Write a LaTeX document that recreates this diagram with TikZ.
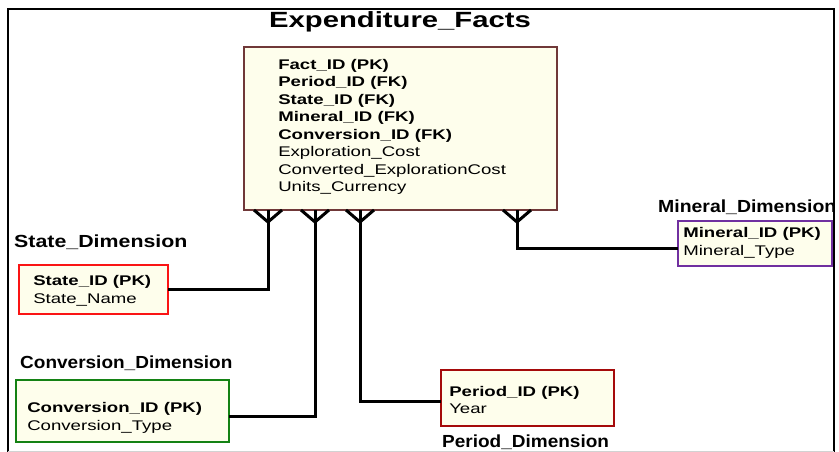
\documentclass[tikz,border=0pt]{standalone}
\usepackage{fontspec}
\setmainfont{Liberation Sans}
\usetikzlibrary{positioning}

\definecolor{factbrown}{RGB}{112,56,56}
\definecolor{statered}{RGB}{250,20,20}
\definecolor{convgreen}{RGB}{20,130,20}
\definecolor{perioddark}{RGB}{165,10,10}
\definecolor{mineralpurple}{RGB}{112,48,160}
\definecolor{cream}{RGB}{254,254,236}

\begin{document}
\begin{tikzpicture}[
        x=1pt, y=-1pt,
        entity/.style={rectangle, draw=#1, fill=cream, line width=2.6pt,
                       inner sep=0pt, outer sep=0pt},
        rows/.style={anchor=west, align=left, inner sep=0pt, xscale=1.33,
                     font=\fontsize{14}{17.5}\selectfont},
        caption/.style={inner sep=0pt, xscale=1.22,
                        font=\fontsize{17.5}{20}\selectfont\bfseries},
        link/.style={line width=3pt}
    ]
    \useasboundingbox (0,0) rectangle (839,452);

    % frame
    \draw[line width=1.4pt] (8,452) -- (8,9) -- (834,9) -- (834,452);
    \draw[gray!35, line width=1pt] (8,451) -- (834,451);

    % fact table
    \node[caption, xscale=1.09, font=\fontsize{22}{24}\selectfont\bfseries] (factsname) at (400,22) {Expenditure\_Facts};
    \node[entity=factbrown, minimum width=313pt, minimum height=163pt] (facts) at (400.5,128.5) {};
    \node[rows] (factsrows) at (278,127) {\textbf{Fact\_ID (PK)}\\ \textbf{Period\_ID (FK)}\\ \textbf{State\_ID (FK)}\\
        \textbf{Mineral\_ID (FK)}\\ \textbf{Conversion\_ID (FK)}\\ Exploration\_Cost\\ Converted\_ExplorationCost\\ Units\_Currency};

    % dimensions
    \node[caption, anchor=west] (statename) at (14,242) {State\_Dimension};
    \node[entity=statered, minimum width=149pt, minimum height=49pt] (state) at (93.5,289.5) {};
    \node[rows] (staterows) at (33,291) {\textbf{State\_ID (PK)}\\ State\_Name};

    \node[caption, anchor=west, xscale=0.89] (convname) at (20,363) {Conversion\_Dimension};
    \node[entity=convgreen, minimum width=213pt, minimum height=62pt] (conv) at (122.5,411) {};
    \node[rows] (convrows) at (27,418) {\textbf{Conversion\_ID (PK)}\\ Conversion\_Type};

    \node[entity=perioddark, minimum width=173pt, minimum height=56pt] (period) at (527.5,398) {};
    \node[rows] (periodrows) at (449,400) {\textbf{Period\_ID (PK)}\\ Year};
    \node[caption, anchor=west, xscale=0.89] (periodname) at (442,442) {Period\_Dimension};

    \node[caption, anchor=west, xscale=0.91] (mineralname) at (658,207) {Mineral\_Dimension};
    \node[entity=mineralpurple, minimum width=154pt, minimum height=45pt] (mineral) at (755,243.5) {};
    \node[rows] (mineralrows) at (683,243) {\textbf{Mineral\_ID (PK)}\\ Mineral\_Type};

    % crow's feet on the fact table
    \foreach \dx in {24,71,116,273}
        \draw[link] ([xshift=\dx pt]facts.south west) ++(-14,0) -- ++(14,12) -- ++(14,-12);

    % relationships
    \draw[link] ([xshift=24pt]facts.south west) |- (state.east);
    \draw[link] ([xshift=71pt]facts.south west) |- ([yshift=-5pt]conv.east);
    \draw[link] ([xshift=116pt]facts.south west) |- ([yshift=-3pt]period.west);
    \draw[link] ([xshift=273pt]facts.south west) |- ([yshift=-5pt]mineral.west);
\end{tikzpicture}
\end{document}
